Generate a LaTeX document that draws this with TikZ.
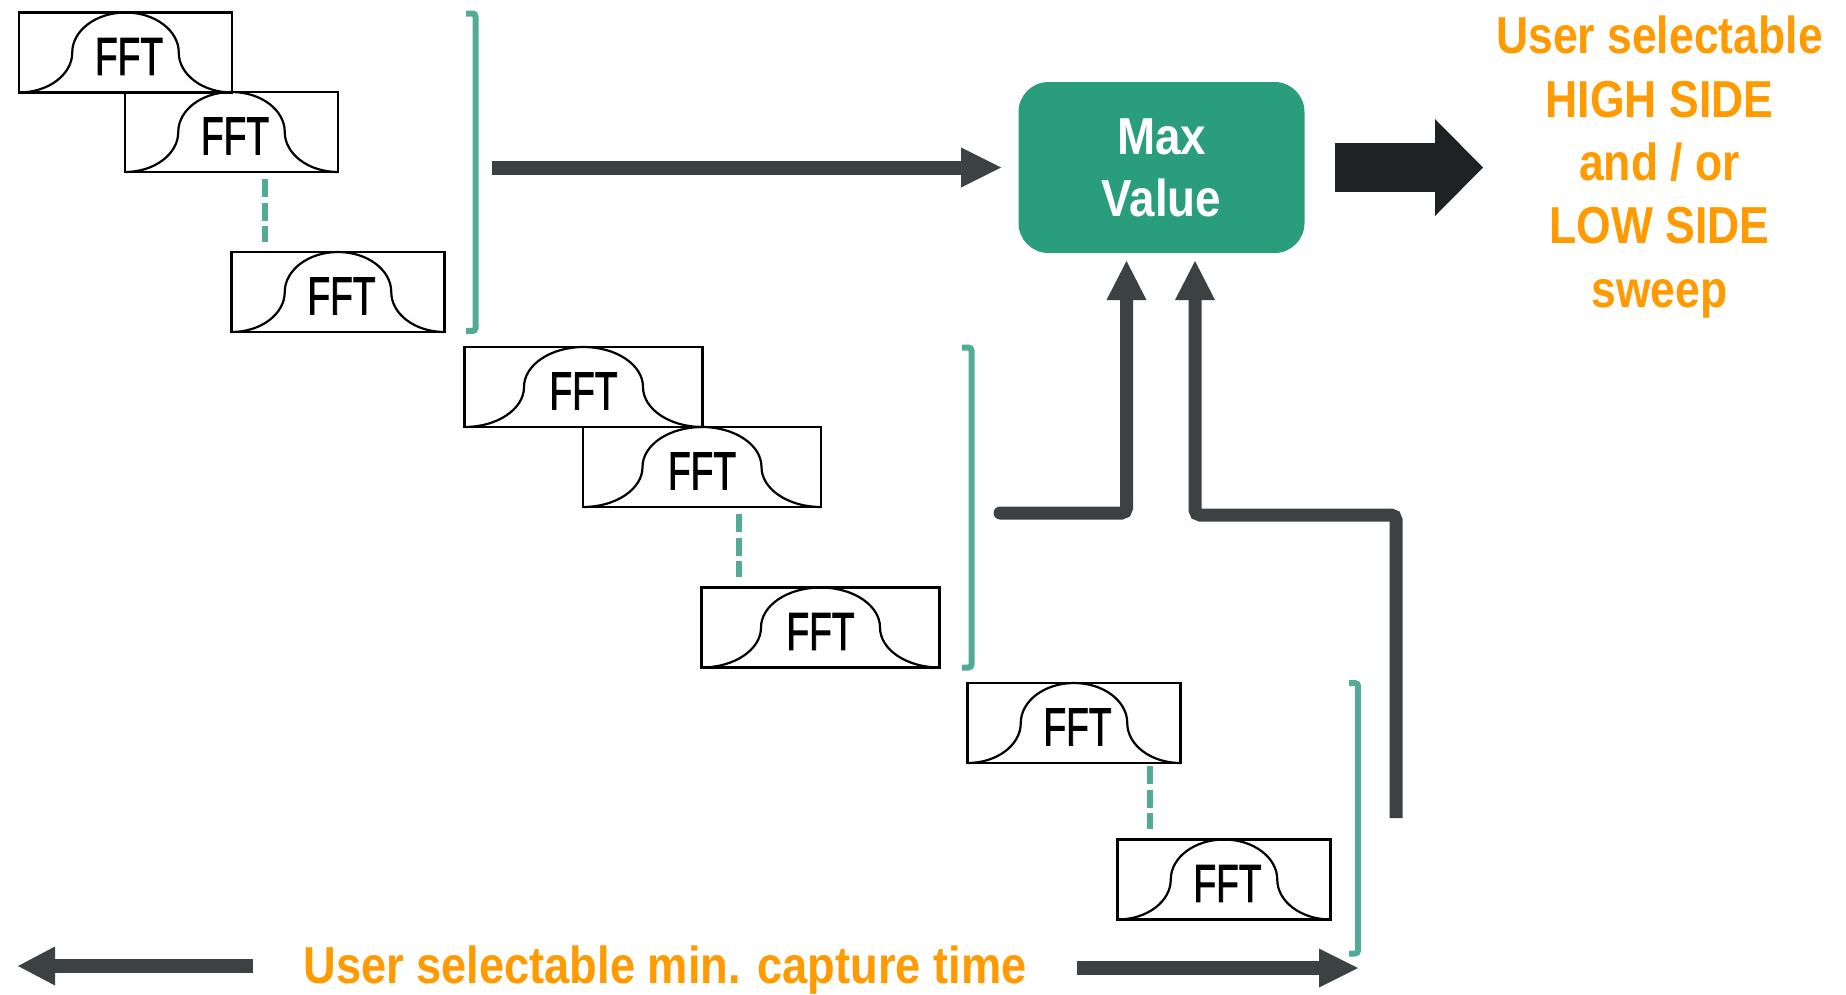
\documentclass[tikz,border=0pt]{standalone}
\usepackage{fontspec}
\setmainfont{Liberation Sans}
\newfontfamily\fftfam[FakeBold=2]{Liberation Sans}
\usepackage{graphicx}
\usetikzlibrary{arrows.meta}
\definecolor{tealline}{HTML}{52AB96}
\definecolor{maxgreen}{HTML}{2A9D7D}
\definecolor{darkarrow}{HTML}{3C4143}
\definecolor{blackarrow}{HTML}{1F2224}
\definecolor{orangetxt}{HTML}{FF9A00}
\newcommand\fftword{{\fftfam\scalebox{0.70}[1]{FFT}}}
\newcommand\fftn{\raisebox{-4pt}[\height][\depth]{\hspace*{7pt}\fftword}}
\newcommand\fftw{\raisebox{-4pt}[\height][\depth]{\fftword}}
\newcommand\cnd[1]{\scalebox{0.856}[1]{#1}}
\newcommand\bump[2]{%
  \draw[bumpline, shift={(#1.south west)}, x=#2pt, y=80pt]
    (0,0) .. controls (0.138,0) and (0.25,0.224) .. (0.25,0.5)
    .. controls (0.25,0.776) and (0.362,1) .. (0.5,1)
    .. controls (0.638,1) and (0.75,0.776) .. (0.75,0.5)
    .. controls (0.75,0.224) and (0.862,0) .. (1,0);}
\tikzset{
  fftbox/.style={draw, line width=2.2pt, minimum height=80pt, inner sep=0pt, outer sep=0pt,
    font=\fontsize{53pt}{53pt}\selectfont},
  bumpline/.style={line width=2.2pt},
  tealdash/.style={draw=tealline, line width=6pt, dash pattern=on 18pt off 5.5pt},
  bracketline/.style={draw=tealline, line width=6pt, rounded corners=3pt},
  harrow/.style={draw=darkarrow, line width=14pt, -{Triangle[length=40pt,width=40pt,line width=0pt]}},
  upconn/.style={draw=darkarrow, line width=13pt, rounded corners=5pt, -{Triangle[length=39pt,width=40pt,line width=0pt]}},
  bigarr/.style={draw=blackarrow, line width=49pt, -{Triangle[length=48pt,width=97pt,line width=0pt]}},
  orangetext/.style={text=orangetxt, font=\fontsize{52pt}{62pt}\selectfont\bfseries, inner sep=0pt, anchor=base},
  maxbox/.style={fill=maxgreen, rounded corners=30pt, minimum width=286pt, minimum height=171pt,
    text=white, font=\fontsize{52pt}{62pt}\selectfont\bfseries, align=center, inner sep=0pt, outer sep=0pt}
}
\begin{document}
\begin{tikzpicture}[x=1pt, y=-1pt]
\useasboundingbox (0,0) rectangle (1846,994);

% FFT boxes
\node[fftbox, minimum width=213pt] (f1) at (125.5,52.5) {\fftn};
\node[fftbox, minimum width=213pt] (f2) at (231.5,132) {\fftn};
\node[fftbox, minimum width=213pt] (f3) at (338,292) {\fftn};
\node[fftbox, minimum width=238pt] (f4) at (583.5,387) {\fftw};
\node[fftbox, minimum width=238pt] (f5) at (702,467) {\fftw};
\node[fftbox, minimum width=238pt] (f6) at (820.5,627.5) {\fftw};
\node[fftbox, minimum width=213pt] (f7) at (1074,723) {\fftn};
\node[fftbox, minimum width=213pt] (f8) at (1224,879.5) {\fftn};
\bump{f1}{213}\bump{f2}{213}\bump{f3}{213}
\bump{f4}{238}\bump{f5}{238}\bump{f6}{238}
\bump{f7}{213}\bump{f8}{213}

% dashed continuation lines
\draw[tealdash] ([shift={(33.5,7)}]f2.south) -- ([shift={(-73,-10)}]f3.north);
\draw[tealdash] ([shift={(37,7)}]f5.south) -- ([shift={(-81.5,-10.5)}]f6.north);
\draw[tealdash] ([shift={(76,3)}]f7.south) -- ([shift={(-74,-10.5)}]f8.north);

% brackets
\coordinate (b1a) at (466,13.5);  \coordinate (b1b) at (466,331);
\coordinate (b2a) at (962,347.5); \coordinate (b2b) at (962,667.5);
\coordinate (b3a) at (1349,683);  \coordinate (b3b) at (1349,953.5);
\draw[bracketline] (b1a) -- ++(9.5,0) |- (b1b);
\draw[bracketline] (b2a) -- ++(9.5,0) |- (b2b);
\draw[bracketline] (b3a) -- ++(9,0) |- (b3b);

% Max value box
\node[maxbox] (max) at (1161.5,167.5) {\scalebox{0.88}[1]{Max}\\\scalebox{0.88}[1]{Value}};

% arrows into max box
\coordinate (h1s) at (492,167.5);
\draw[harrow] (h1s) -- ([xshift=-17.5pt]max.west);
\coordinate (e1s) at (1000,513);
\draw[upconn, line cap=round] (e1s) -| ([shift={(-35,8)}]max.south);
\coordinate (e2s) at (1396,818);
\draw[upconn] (e2s) |- ([shift={(33.5,262)}]max.south) -- ([shift={(33.5,8)}]max.south);

% output arrow
\coordinate (bigtip) at (1483,167.5);
\draw[bigarr] ([xshift=30.5pt]max.east) -- (bigtip);

% right text
\node[orangetext] (r1) at (1659.5,53) {\cnd{User selectable}};
\node[orangetext] (r2) at (1659.5,117) {\cnd{HIGH SIDE}};
\node[orangetext] (r3) at (1659.5,180) {\cnd{and / or}};
\node[orangetext] (r4) at (1659.5,243) {\cnd{LOW SIDE}};
\node[orangetext] (r5) at (1659.5,307) {\cnd{sweep}};

% bottom text and arrows
\node[orangetext] (cap) at (665,983) {\scalebox{0.87}[1]{User selectable min. capture time}};
\coordinate (ls) at (253,966); \coordinate (lt) at (18,966);
\coordinate (rs) at (1077,968); \coordinate (rt) at (1358,968);
\draw[draw=darkarrow, line width=14pt, -{Triangle[length=37pt,width=39pt,line width=0pt]}] (ls) -- (lt);
\draw[draw=darkarrow, line width=14pt, -{Triangle[length=39pt,width=39pt,line width=0pt]}] (rs) -- (rt);
\end{tikzpicture}
\end{document}
